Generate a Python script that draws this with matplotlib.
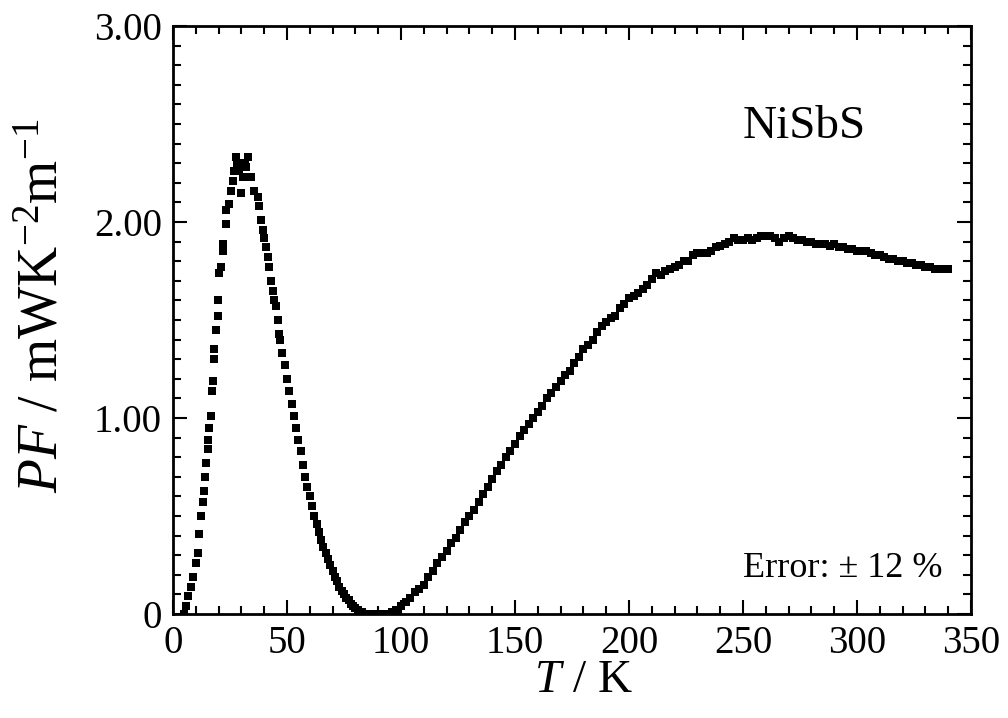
import numpy as np
import matplotlib
matplotlib.use('Agg')
import matplotlib.pyplot as plt
from matplotlib.ticker import MultipleLocator, FuncFormatter

plt.rcParams['font.family'] = ['Liberation Serif', 'DejaVu Serif']
plt.rcParams['mathtext.fontset'] = 'custom'
plt.rcParams['mathtext.rm'] = 'Liberation Serif'
plt.rcParams['mathtext.it'] = 'Liberation Serif:italic'

# 低温段 (稀疏, 不规则)
T_low = [5.0, 5.6, 6.4, 7.9, 8.8, 10.1, 10.9, 11.4, 12.3, 13.0, 13.6, 13.9, 14.5,
         15.3, 15.5, 15.8, 16.6, 16.9, 17.5, 18.0, 18.2, 18.8, 19.7, 19.9, 20.1,
         21.0, 21.9, 22.1, 23.2, 23.4, 24.5, 25.4, 26.3, 26.7, 27.6, 28.2, 28.9,
         29.8, 30.7, 31.4, 32.0, 32.9, 34.2, 35.5, 37.2, 37.7, 38.5, 39.4, 39.9,
         40.7, 41.6, 42.0, 42.9, 43.8, 44.2, 45.1, 46.0, 46.4]
PF_low = [0.00, 0.04, 0.09, 0.14, 0.19, 0.26, 0.31, 0.41, 0.50, 0.57, 0.63, 0.70, 0.77,
          0.84, 0.89, 0.95, 1.01, 1.14, 1.19, 1.30, 1.35, 1.45, 1.52, 1.60, 1.74,
          1.77, 1.85, 1.89, 1.99, 2.06, 2.09, 2.16, 2.21, 2.26, 2.33, 2.30, 2.26,
          2.15, 2.23, 2.30, 2.28, 2.33, 2.23, 2.16, 2.13, 2.08, 2.01, 1.96, 1.92,
          1.87, 1.82, 1.77, 1.70, 1.65, 1.60, 1.57, 1.50, 1.43]

# 下降段
T_mid = [47, 48, 49, 50, 51, 52, 53, 54, 55, 56, 57, 58, 59, 60, 61, 62, 63, 64,
         65, 66, 67, 68, 69, 70, 71, 72, 73, 74, 75, 76, 77, 78, 79, 80, 81, 82,
         83, 84, 85, 86, 87, 88, 89, 90]
PF_mid = [1.40, 1.33, 1.27, 1.20, 1.14, 1.07, 1.01, 0.95, 0.89, 0.83, 0.76, 0.70,
          0.65, 0.60, 0.55, 0.50, 0.46, 0.42, 0.38, 0.34, 0.31, 0.28, 0.25, 0.22,
          0.19, 0.17, 0.14, 0.12, 0.10, 0.08, 0.07, 0.05, 0.04, 0.03, 0.02, 0.01,
          0.01, 0.00, 0.00, 0.00, 0.00, 0.00, 0.00, 0.00]

# 高温段
T_high = [92, 94, 96, 98, 100, 102, 104, 106, 108, 110, 112, 114, 116, 118, 120,
          122, 124, 126, 128, 130, 132, 134, 136, 138, 140, 142, 144, 146, 148, 150,
          152, 154, 156, 158, 160, 162, 164, 166, 168, 170, 172, 174, 176, 178, 180,
          182, 184, 186, 188, 190, 192, 194, 196, 198, 200, 202, 204, 206, 208, 210,
          212, 214, 216, 218, 220, 222, 224, 226, 228, 230, 232, 234, 236, 238, 240,
          242, 244, 246, 248, 250, 252, 254, 256, 258, 260, 262, 264, 266, 268, 270,
          272, 274, 276, 278, 280, 282, 284, 286, 288, 290, 292, 294, 296, 298, 300,
          302, 304, 306, 308, 310, 312, 314, 316, 318, 320, 322, 324, 326, 328, 330,
          332, 334, 336, 338, 340]
PF_high = [0.00, 0.00, 0.01, 0.02, 0.04, 0.06, 0.08, 0.11, 0.13, 0.15, 0.19, 0.22,
           0.26, 0.29, 0.32, 0.36, 0.39, 0.43, 0.47, 0.50, 0.53, 0.57, 0.61, 0.65,
           0.69, 0.73, 0.76, 0.80, 0.83, 0.87, 0.91, 0.94, 0.97, 1.00, 1.03, 1.06,
           1.10, 1.13, 1.16, 1.19, 1.22, 1.24, 1.28, 1.31, 1.35, 1.37, 1.40, 1.44,
           1.47, 1.49, 1.51, 1.52, 1.56, 1.58, 1.61, 1.62, 1.64, 1.66, 1.68, 1.71,
           1.74, 1.73, 1.75, 1.76, 1.77, 1.78, 1.80, 1.80, 1.83, 1.84, 1.84, 1.84,
           1.85, 1.87, 1.88, 1.89, 1.90, 1.92, 1.91, 1.91, 1.92, 1.91, 1.92, 1.93,
           1.93, 1.93, 1.92, 1.90, 1.92, 1.93, 1.92, 1.91, 1.91, 1.90, 1.90, 1.89,
           1.89, 1.89, 1.88, 1.89, 1.87, 1.87, 1.86, 1.86, 1.85, 1.85, 1.85, 1.84,
           1.83, 1.83, 1.82, 1.81, 1.81, 1.80, 1.80, 1.79, 1.79, 1.78, 1.78, 1.77,
           1.77, 1.76, 1.76, 1.76, 1.76]

T = np.array(T_low + T_mid + T_high)
PF = np.array(PF_low + PF_mid + PF_high)

fig = plt.figure(figsize=(10.08, 7.18), dpi=100)
ax = fig.add_axes([0.1716, 0.1448, 0.7917, 0.819])

ax.plot(T, PF, 's', color='k', markersize=6.3, markeredgewidth=0)

ax.set_xlim(0, 350)
ax.set_ylim(0, 3.0)
ax.xaxis.set_major_locator(MultipleLocator(50))
ax.xaxis.set_minor_locator(MultipleLocator(10))
ax.yaxis.set_major_locator(MultipleLocator(1.0))
ax.yaxis.set_minor_locator(MultipleLocator(0.1))
ax.yaxis.set_major_formatter(FuncFormatter(lambda v, p: '0' if v == 0 else '%.2f' % v))

ax.tick_params(which='both', direction='in', top=True, right=True, width=1.5,
               labelsize=28)
ax.tick_params(which='major', length=10, pad=8)
ax.tick_params(which='minor', length=6)
for s in ax.spines.values():
    s.set_linewidth(2)

ax.set_xlabel('$\\mathit{T}$ / K', fontsize=34)
ax.xaxis.set_label_coords(0.514, -0.077)
ax.set_ylabel('$\\mathit{PF}$ / mWK$^{-2}$m$^{-1}$', fontsize=40)
ax.yaxis.set_label_coords(-0.13, 0.525)

ax.text(250, 2.43, 'NiSbS', fontsize=34, ha='left', va='baseline')
ax.text(337.7, 0.19, 'Error: ± 12 %', fontsize=26, ha='right', va='baseline')

fig.savefig('out.png', dpi=100)
